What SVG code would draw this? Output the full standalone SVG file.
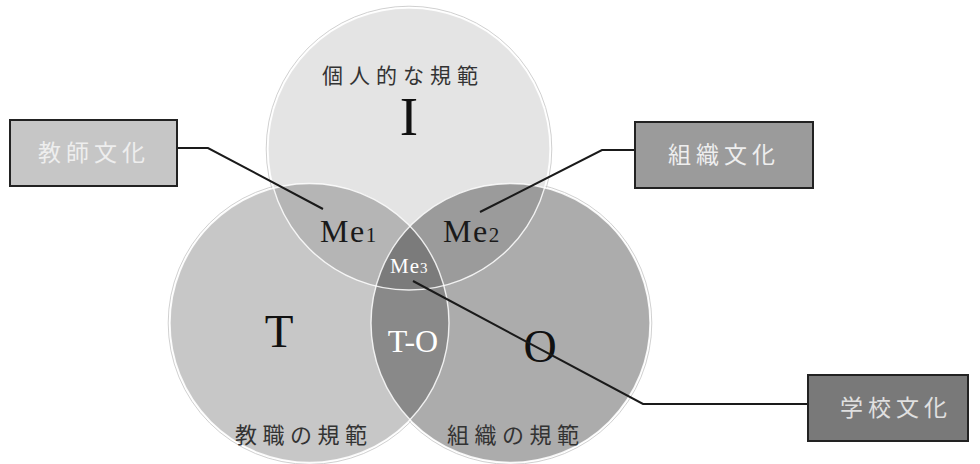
<svg xmlns="http://www.w3.org/2000/svg" width="980" height="464" viewBox="0 0 980 464">
<style>
.jp{font-family:"Noto Sans CJK JP","Noto Sans",sans-serif;}
.lbl{font-size:21px;fill:#333;letter-spacing:6px;}
.box{stroke:#222;stroke-width:2;}
.boxt{font-size:23px;fill:#eeeeee;letter-spacing:5px;}
.big{font-family:"Liberation Serif","DejaVu Serif",serif;fill:#111;}
.me{font-family:"Liberation Serif","DejaVu Serif",serif;}
.halo{fill:none;stroke:#c4c4c4;stroke-width:0.8;}
.edge{fill:none;stroke:#fff;stroke-width:1.4;stroke-opacity:0.85;}
.conn{fill:none;stroke:#1a1a1a;stroke-width:2;}
</style>
<defs>
<clipPath id="cI"><circle cx="409" cy="149" r="141"/></clipPath>
<clipPath id="cT"><circle cx="309.5" cy="323" r="139.5"/></clipPath>
<clipPath id="cO"><circle cx="510.5" cy="323" r="139.5"/></clipPath>
</defs>
<rect width="980" height="464" fill="#fff"/>
<g id="venn">
<circle class="halo" cx="409" cy="149" r="142.8"/>
<circle class="halo" cx="309.5" cy="323" r="141.3"/>
<circle class="halo" cx="510.5" cy="323" r="141.3"/>
<g id="node-I"><circle cx="409" cy="149" r="141" fill="#e4e4e4"/></g>
<g id="node-T"><circle cx="309.5" cy="323" r="139.5" fill="#c7c7c7"/></g>
<g id="node-O"><circle cx="510.5" cy="323" r="139.5" fill="#acacac"/></g>
<g id="node-Me1"><circle cx="409" cy="149" r="141" fill="#b5b5b5" clip-path="url(#cT)"/></g>
<g id="node-Me2"><circle cx="409" cy="149" r="141" fill="#9b9b9b" clip-path="url(#cO)"/></g>
<g id="node-TO"><circle cx="309.5" cy="323" r="139.5" fill="#898989" clip-path="url(#cO)"/></g>
<g id="node-Me3"><g clip-path="url(#cT)"><circle cx="409" cy="149" r="141" fill="#7b7b7b" clip-path="url(#cO)"/></g></g>
<circle class="edge" cx="409" cy="149" r="141"/>
<circle class="edge" cx="309.5" cy="323" r="139.5"/>
<circle class="edge" cx="510.5" cy="323" r="139.5"/>
</g>
<g id="labels">
<text class="jp lbl" x="322" y="83">個人的な規範</text>
<text class="big" x="409" y="135" font-size="55" text-anchor="middle">I</text>
<text class="big" x="279" y="347" font-size="47" text-anchor="middle">T</text>
<text class="big" x="540" y="362" font-size="46" text-anchor="middle">O</text>
<text class="me" x="413" y="352" font-size="32" fill="#fff" text-anchor="middle">T-O</text>
<text class="jp lbl" x="235" y="443" style="font-size:22px;letter-spacing:5.5px">教職の規範</text>
<text class="jp lbl" x="447" y="443" style="font-size:22px;letter-spacing:5.5px">組織の規範</text>
<text class="me" x="320" y="242" font-size="32" fill="#1a1a1a" letter-spacing="1.5">Me<tspan font-size="21">1</tspan></text>
<text class="me" x="443" y="242" font-size="32" fill="#1a1a1a" letter-spacing="1.5">Me<tspan font-size="21">2</tspan></text>
<text class="me" x="390" y="273" font-size="21" fill="#fff" letter-spacing="1">Me<tspan font-size="15">3</tspan></text>
</g>
<g id="connectors">
<polyline class="conn" points="177,148 208,148 323,209"/>
<polyline class="conn" points="635,150 602,150 480,212"/>
<polyline class="conn" points="808,404 643,404 413,281"/>
</g>
<g id="box-teacher">
<rect class="box" x="10" y="120" width="167" height="66" fill="#c6c6c6"/>
<text class="jp boxt" x="38" y="161">教師文化</text>
</g>
<g id="box-org">
<rect class="box" x="635" y="122" width="178" height="66" fill="#9b9b9b"/>
<text class="jp boxt" x="668" y="163">組織文化</text>
</g>
<g id="box-school">
<rect class="box" x="808" y="375" width="160" height="66" fill="#797979"/>
<text class="jp boxt" x="840" y="416" style="fill:#e0e0e0">学校文化</text>
</g>
</svg>
